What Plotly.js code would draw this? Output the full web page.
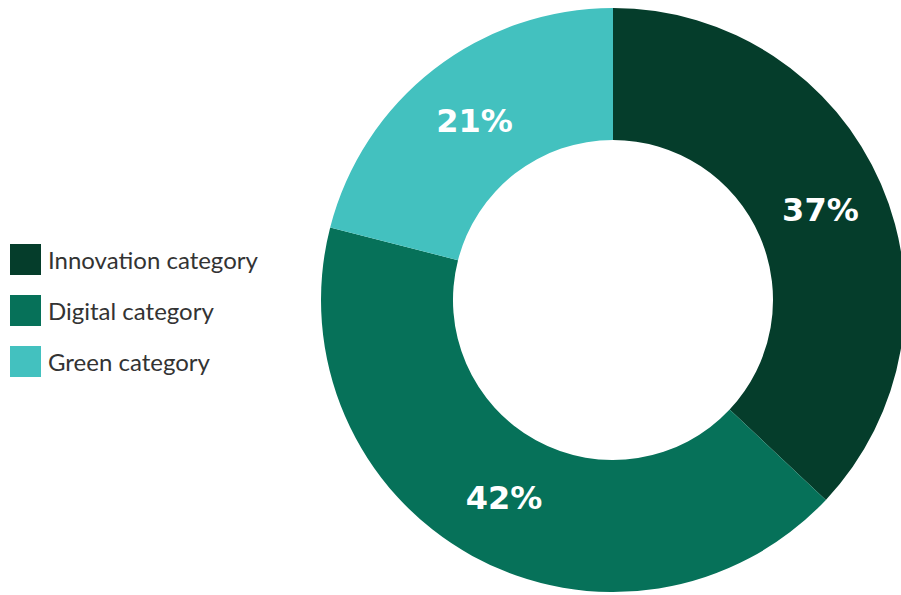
<!DOCTYPE html>
<html>
<head>
<meta charset="utf-8">
<script src="https://cdn.plot.ly/plotly-3.0.1.min.js"></script>
<style>html,body{margin:0;padding:0;overflow:hidden;background:#fff;width:901px;height:595px}</style>
</head>
<body>
<div id="chart"></div>
<script>
const categories = ["Innovation category", "Digital category", "Green category"];
const shares = [37, 42, 21];
const colors = ["#053d2b", "#067159", "#43c1bf"];

const W = 910, H = 595;
const shapes = [], annotations = [];
categories.forEach((c, i) => {
  const top = 244 + i * 51;
  shapes.push({type: "rect", xref: "paper", yref: "paper",
    x0: 10 / W, x1: 41 / W, y0: 1 - (top + 31) / H, y1: 1 - top / H,
    fillcolor: colors[i], line: {width: 0}});
  annotations.push({xref: "paper", yref: "paper", x: 46 / W, y: 1 - (top + 15) / H,
    xanchor: "left", yanchor: "middle", showarrow: false, text: c,
    font: {family: "Lato", size: 24, color: "#333333"}});
});

const cx = 613, cy = 300, R = 292;
const data = [{
  type: "pie",
  labels: categories,
  values: shares,
  hole: 0.548,
  sort: false,
  direction: "clockwise",
  rotation: 0,
  marker: {colors: colors, line: {width: 0}},
  texttemplate: "%{value}%",
  textposition: "inside",
  insidetextorientation: "horizontal",
  textfont: {family: "DejaVu Sans", size: 32, color: "#ffffff", weight: "bold"},
  domain: {x: [(cx - R) / W, (cx + R) / W], y: [(H - cy - R) / H, (H - cy + R) / H]},
  showlegend: false,
  hoverinfo: "none"
}];

const layout = {
  width: W, height: H,
  margin: {l: 0, r: 0, t: 0, b: 0},
  paper_bgcolor: "#ffffff",
  showlegend: false,
  shapes: shapes,
  annotations: annotations
};
Plotly.newPlot("chart", data, layout, {displayModeBar: false, staticPlot: true});
</script>
</body>
</html>
